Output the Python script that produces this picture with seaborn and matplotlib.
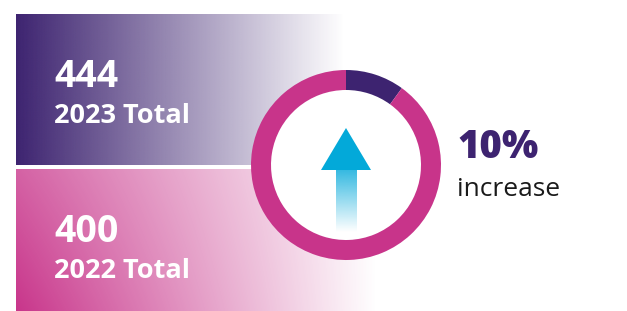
import numpy as np
import matplotlib
matplotlib.use("Agg")
import matplotlib.pyplot as plt
import matplotlib.patches as mpatches
import seaborn as sns

# Data
years = ["2023", "2022"]
totals = [444, 400]
increase_pct = 10
ring_values = [increase_pct, 100 - increase_pct]

# Colours
dark_purple = "#3d2370"
pink = "#c8348a"
cyan = "#03a9d9"
palette = sns.color_palette([dark_purple, pink])

sns.set_theme(style="white")
plt.rcParams["font.family"] = ["Open Sans", "DejaVu Sans"]

W, H = 627, 311
fig = plt.figure(figsize=(W / 100, H / 100), dpi=100)
ax = fig.add_axes([0, 0, 1, 1])


def py(y):
    # pixel row (from top) -> data y (from bottom)
    return H - y


def rgb(c):
    return np.array(matplotlib.colors.to_rgb(c))


# Top panel: horizontal gradient purple -> white
x0, x1 = 16, 345
xs = np.linspace(0, 1, 400)
img = np.zeros((1, len(xs), 4))
img[..., :3] = rgb(dark_purple)
img[..., 3] = 1 - xs
ax.imshow(img, extent=(x0, x1, py(165), py(14)), aspect="auto",
          interpolation="bilinear", zorder=1)

# Bottom panel: pink strongest bottom-left, fading to white on the right
bx0, bx1, by0, by1 = 16, 380, 169, 311
gx = np.arange(bx0, bx1)
gy = np.arange(by0, by1)
GX, GY = np.meshgrid(gx, gy)
u = np.clip((GX - 16) / 360.0, 0, 1)
v = np.clip((311 - GY) / 141.0, 0, 1)
t = 1 - (1 - u) * (1 - 0.22 * v)
img2 = np.zeros(GX.shape + (4,))
img2[..., :3] = rgb(pink)
img2[..., 3] = 1 - t
ax.imshow(img2, extent=(bx0, bx1, py(by1), py(by0)), aspect="auto",
          interpolation="bilinear", zorder=1)

# Donut
cx, cy, r_out, ring_w = 346, 165, 95, 20
ax.add_patch(mpatches.Circle((cx, py(cy)), r_out - ring_w, color="white", zorder=2))
ax.pie(ring_values, colors=palette, startangle=90, counterclock=False,
       center=(cx, py(cy)), radius=r_out,
       wedgeprops=dict(width=ring_w, linewidth=0), frame=False)
for p in ax.patches:
    if isinstance(p, mpatches.Wedge):
        p.set_zorder(3)

# Arrow: head + fading shaft
head = mpatches.Polygon([(346, py(128)), (321, py(170)), (371, py(170))],
                        closed=True, color=cyan, zorder=4, linewidth=0)
ax.add_patch(head)
ys = np.linspace(0, 1, 200)
shaft = np.zeros((len(ys), 1, 4))
shaft[..., :3] = rgb("#1fb2de")
shaft[..., 3] = (0.9 * (1 - ys))[:, None]
ax.imshow(shaft, extent=(336, 357, py(232), py(170)), aspect="auto",
          interpolation="bilinear", zorder=4)

# Text
ax.text(54, py(87), str(totals[0]), color="white", fontsize=27,
        fontweight="bold", va="baseline", ha="left", zorder=5)
ax.text(54, py(123), f"{years[0]} Total", color="white", fontsize=19.5,
        fontweight="bold", va="baseline", ha="left", zorder=5)
ax.text(54, py(242), str(totals[1]), color="white", fontsize=27,
        fontweight="bold", va="baseline", ha="left", zorder=5)
ax.text(54, py(278), f"{years[1]} Total", color="white", fontsize=19.5,
        fontweight="bold", va="baseline", ha="left", zorder=5)
ax.text(457, py(158), f"{increase_pct}%", color=dark_purple, fontsize=27.5,
        fontweight="heavy", va="baseline", ha="left", zorder=5)
ax.text(457, py(196), "increase", color="#1a1a1a", fontsize=19,
        va="baseline", ha="left", zorder=5)

ax.set_xlim(0, W)
ax.set_ylim(0, H)
ax.set_aspect("equal")
ax.axis("off")

fig.savefig("out.png", dpi=100, facecolor="white")
